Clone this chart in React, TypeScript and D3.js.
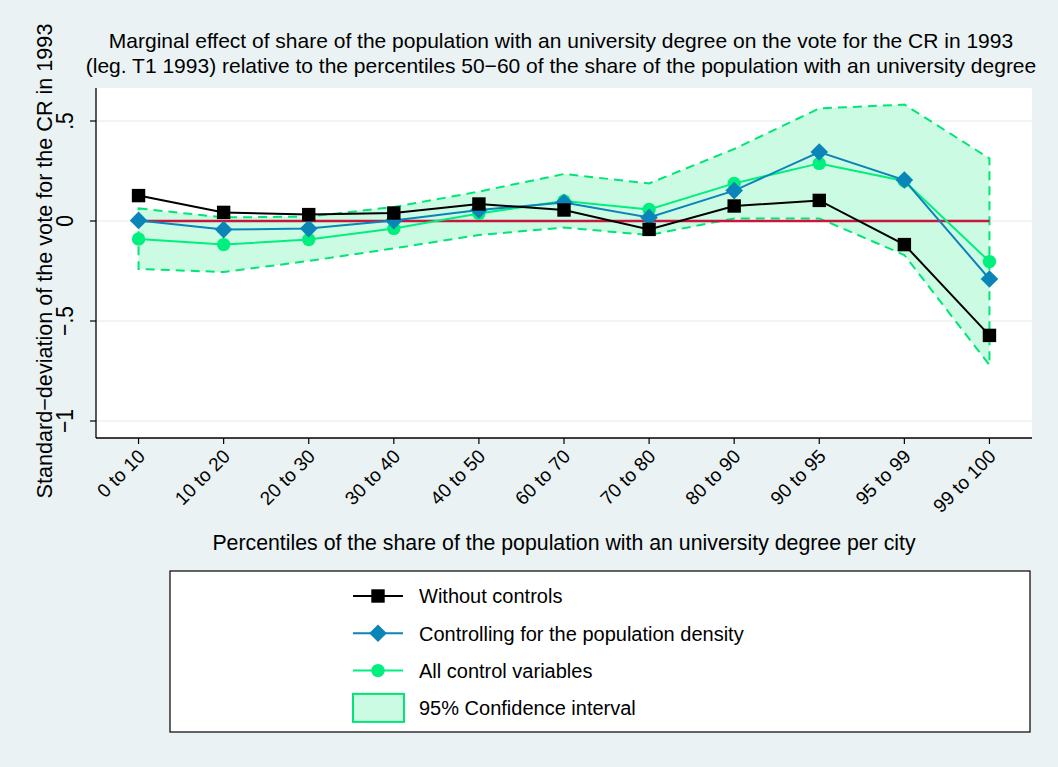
import React from 'react';
import * as d3 from 'd3';

// Percentile bins of the share of the population with a university degree
const categories = [
  '0 to 10', '10 to 20', '20 to 30', '30 to 40', '40 to 50', '60 to 70',
  '70 to 80', '80 to 90', '90 to 95', '95 to 99', '99 to 100',
];

// Marginal effects (standard deviations) relative to percentiles 50-60
const withoutControls = [0.127, 0.043, 0.032, 0.04, 0.085, 0.055, -0.042, 0.075, 0.103, -0.118, -0.572];
const densityControl = [0.003, -0.043, -0.038, 0.002, 0.055, 0.092, 0.018, 0.152, 0.345, 0.205, -0.29];
const allControls = [-0.09, -0.118, -0.093, -0.037, 0.038, 0.1, 0.058, 0.188, 0.288, 0.2, -0.203];

// 95% confidence band
const ciUpper = [0.063, 0.018, 0.022, 0.07, 0.147, 0.235, 0.188, 0.36, 0.563, 0.582, 0.313];
const ciLower = [-0.24, -0.255, -0.2, -0.137, -0.07, -0.033, -0.07, 0.013, 0.013, -0.17, -0.72];

const yTicks = [-1, -0.5, 0, 0.5];
const yDomain = [-1.085, 0.665];

const titleLines = [
  'Marginal effect of share of the population with an university degree on the vote for the CR in 1993',
  '(leg. T1 1993) relative to the percentiles 50\u221260 of the share of the population with an university degree',
];
const yTitle = 'Standard\u2212deviation of the vote for the CR in 1993';
const xTitle = 'Percentiles of the share of the population with an university degree per city';

const legendItems = [
  { label: 'Without controls', kind: 'square' },
  { label: 'Controlling for the population density', kind: 'diamond' },
  { label: 'All control variables', kind: 'circle' },
  { label: '95% Confidence interval', kind: 'band' },
];

const W = 1058;
const H = 767;
const BG = '#eaf2f3';
const BLACK = '#000000';
const BLUE = '#0b84b8';
const GREEN = '#00ef7f';
const DASH_GREEN = '#00e676';
const FILL = '#ccfbe3';
const RED = '#c8163c';
const FONT = '"Liberation Sans", Arial, Helvetica, sans-serif';

const plot = { left: 96, right: 1032, top: 88, bottom: 438 };

function fmtTick(v: number): string {
  if (v === 0) return '0';
  const s = Math.abs(v) < 1 ? String(Math.abs(v)).replace(/^0/, '') : String(Math.abs(v));
  return (v < 0 ? '\u2212' : '') + s;
}

function Marker({ kind, x, y, color }: { kind: string; x: number; y: number; color: string }) {
  if (kind === 'square') return <rect x={x - 6.7} y={y - 6.7} width={13.4} height={13.4} fill={color} />;
  if (kind === 'diamond') {
    const r = 8.8;
    return <path d={`M${x},${y - r}L${x + r},${y}L${x},${y + r}L${x - r},${y}Z`} fill={color} />;
  }
  return <circle cx={x} cy={y} r={6.7} fill={color} />;
}

export default function App() {
  const x = d3.scalePoint<string>().domain(categories).range([plot.left, plot.right]).padding(0.5);
  const y = d3.scaleLinear().domain(yDomain).range([plot.bottom, plot.top]);

  const px = (i: number) => x(categories[i]) as number;

  const band = d3
    .area<number>()
    .x((_, i) => px(i))
    .y0((_, i) => y(ciLower[i]))
    .y1((d) => y(d));

  const outline =
    d3.line<number>().x((_, i) => px(i)).y((d) => y(d))(ciUpper) +
    'L' +
    ciLower
      .map((d, i) => [px(i), y(d)])
      .reverse()
      .map((p) => p.join(','))
      .join('L') +
    'Z';

  const line = d3
    .line<number>()
    .x((_, i) => px(i))
    .y((d) => y(d));

  const series = [
    { values: allControls, color: GREEN, kind: 'circle' },
    { values: densityControl, color: BLUE, kind: 'diamond' },
    { values: withoutControls, color: BLACK, kind: 'square' },
  ];

  const first = px(0);
  const last = px(categories.length - 1);

  return (
    <svg
      width={W}
      height={H}
      style={{ position: 'absolute', left: 0, top: 0, display: 'block' }}
      fontFamily={FONT}
    >
      <rect x={0} y={0} width={W} height={H} fill={BG} />
      <rect x={plot.left} y={plot.top} width={plot.right - plot.left} height={plot.bottom - plot.top} fill="#ffffff" />

      {/* grid lines */}
      {yTicks.map((t) => (
        <line key={t} x1={plot.left} x2={plot.right} y1={y(t)} y2={y(t)} stroke={BG} strokeWidth={1.5} />
      ))}

      {/* confidence band */}
      <path d={band(ciUpper) as string} fill={FILL} />
      <path d={outline} fill="none" stroke={DASH_GREEN} strokeWidth={2} strokeDasharray="9 6" />

      {/* reference line at zero */}
      <line x1={first} x2={last} y1={y(0)} y2={y(0)} stroke={RED} strokeWidth={2.5} />

      {series.map((s) => (
        <g key={s.kind}>
          <path d={line(s.values) as string} fill="none" stroke={s.color} strokeWidth={2} />
          {s.values.map((v, i) => (
            <Marker key={i} kind={s.kind} x={px(i)} y={y(v)} color={s.color} />
          ))}
        </g>
      ))}

      {/* axes */}
      <line x1={plot.left} x2={plot.left} y1={plot.top} y2={plot.bottom} stroke="#000" strokeWidth={1.3} />
      <line x1={plot.left} x2={plot.right} y1={plot.bottom} y2={plot.bottom} stroke="#000" strokeWidth={1.3} />

      {yTicks.map((t) => (
        <g key={t}>
          <line x1={plot.left - 6} x2={plot.left} y1={y(t)} y2={y(t)} stroke="#000" strokeWidth={1.2} />
          <text
            transform={`translate(${plot.left - 31},${y(t)}) rotate(-90) scale(1,1.15)`}
            textAnchor="middle"
            dominantBaseline="central"
            fontSize={21}
            fill="#000"
          >
            {fmtTick(t)}
          </text>
        </g>
      ))}

      {categories.map((c, i) => (
        <g key={c}>
          <line x1={px(i)} x2={px(i)} y1={plot.bottom} y2={plot.bottom + 6} stroke="#000" strokeWidth={1.2} />
          <text
            transform={`translate(${px(i) + 3},${plot.bottom + 15}) rotate(-45)`}
            textAnchor="end"
            dominantBaseline="central"
            fontSize={19}
            fill="#000"
          >
            {c}
          </text>
        </g>
      ))}

      {/* titles */}
      {titleLines.map((t, i) => (
        <text key={i} x={561} y={47.7 + i * 25} textAnchor="middle" fontSize={21} fill="#000">
          {t}
        </text>
      ))}
      <text
        transform={`translate(52,${(plot.top + plot.bottom) / 2 - 2}) rotate(-90)`}
        textAnchor="middle"
        fontSize={21.6}
        fill="#000"
      >
        {yTitle}
      </text>
      <text x={564} y={550} textAnchor="middle" fontSize={21.3} fill="#000">
        {xTitle}
      </text>

      {/* legend */}
      <rect x={170} y={571} width={860} height={161} fill="#ffffff" stroke="#000" strokeWidth={1.2} />
      {legendItems.map((it, i) => {
        const cy = 596 + i * 37.3;
        const color = it.kind === 'square' ? BLACK : it.kind === 'diamond' ? BLUE : GREEN;
        return (
          <g key={it.label}>
            {it.kind === 'band' ? (
              <rect x={353} y={cy - 14} width={51} height={28} fill={FILL} stroke={DASH_GREEN} strokeWidth={2} />
            ) : (
              <>
                <line x1={353} x2={403} y1={cy} y2={cy} stroke={color} strokeWidth={2} />
                <Marker kind={it.kind} x={378} y={cy} color={color} />
              </>
            )}
            <text x={419} y={cy + 7.3} fontSize={20} fill="#000">
              {it.label}
            </text>
          </g>
        );
      })}
    </svg>
  );
}
